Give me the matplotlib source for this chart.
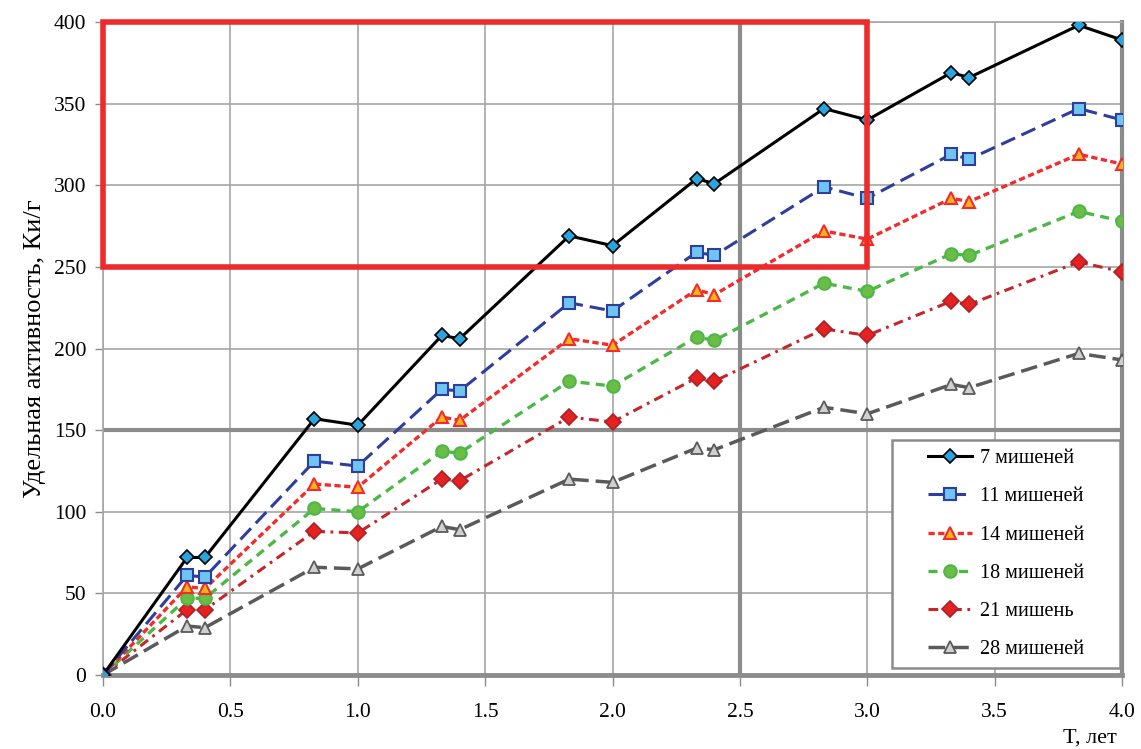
import matplotlib.pyplot as plt
from matplotlib.patches import Rectangle

plt.rcParams['font.family'] = ['Liberation Serif', 'DejaVu Serif']
plt.rcParams['lines.scale_dashes'] = False

# time points, years
t = [0, 0.33, 0.4, 0.83, 1.0, 1.33, 1.4, 1.83, 2.0, 2.33, 2.4, 2.83, 3.0, 3.33, 3.4, 3.83, 4.0]

# specific activity, Ci/g
a7 = [0, 72, 72, 157, 153, 208, 206, 269, 263, 304, 301, 347, 340, 369, 366, 398, 389]
a11 = [0, 61, 60, 131, 128, 175, 174, 228, 223, 259, 257, 299, 292, 319, 316, 347, 340]
a14 = [0, 54, 53, 117, 115, 158, 156, 206, 202, 236, 233, 272, 267, 292, 290, 319, 313]
a18 = [0, 47, 47, 102, 100, 137, 136, 180, 177, 207, 205, 240, 235, 258, 257, 284, 278]
a21 = [0, 40, 40, 88, 87, 120, 119, 158, 155, 182, 180, 212, 208, 229, 227, 253, 247]
a28 = [0, 30, 29, 66, 65, 91, 89, 120, 118, 139, 138, 164, 160, 178, 176, 197, 193]

labels = ['7 мишеней', '11 мишеней', '14 мишеней', '18 мишеней', '21 мишень', '28 мишеней']

fig = plt.figure(figsize=(11.41, 7.49), dpi=100)
ax = fig.add_axes([0.0903, 0.0988, 0.8931, 0.8718])

#series
ax.plot(t, a7, color='black', lw=2.2, marker='D', ms=7, mfc='#2AA4DC', mec='black', mew=1.2,
        label=labels[0], zorder=10)
ax.plot(t, a11, color='#2E3E9C', lw=2.2, dashes=(11, 5), marker='s', ms=9, mfc='#6EC6F0',
        mec='#2E3E9C', mew=1.5, label=labels[1], zorder=9)
ax.plot(t, a14, color='#F22B2B', lw=2.4, dashes=(4.5, 2.5), marker='^', ms=9, mfc='#F7B21C',
        mec='#F22B2B', mew=1.5, label=labels[2], zorder=8)
ax.plot(t, a18, color='#4DB848', lw=2.4, dashes=(6.5, 4.5), marker='o', ms=9, mfc='#6CBD45',
        mec='#4DB848', mew=1.5, label=labels[3], zorder=7)
ax.plot(t, a21, color='#C4262A', lw=2.2, dashes=(7, 4, 2, 4), marker='D', ms=8, mfc='#E42222',
        mec='#B02024', mew=1.2, label=labels[4], zorder=6)
ax.plot(t, a28, color='#5A5A5A', lw=2.5, dashes=(12, 5), marker='^', ms=9, mfc='#D0D0D0',
        mec='#5A5A5A', mew=1.3, label=labels[5], zorder=5)

#axes
ax.set_xlim(0, 4)
ax.set_ylim(0, 400)
ax.set_xticks([0, 0.5, 1.0, 1.5, 2.0, 2.5, 3.0, 3.5, 4.0])
ax.set_xticklabels(['0.0', '0.5', '1.0', '1.5', '2.0', '2.5', '3.0', '3.5', '4.0'])
ax.set_yticks(range(0, 401, 50))
ax.tick_params(axis='both', labelsize=15.5, color='#8C8C8C', direction='out')
ax.tick_params(axis='x', length=8, width=1, pad=12)
ax.tick_params(axis='y', length=6, width=1, pad=6)
ax.grid(True, color='#A6A6A6', lw=1.2)
ax.set_axisbelow(True)

# heavier reference lines
ax.axvline(2.5, color='#8C8C8C', lw=3, zorder=1)
ax.axhline(150, color='#8C8C8C', lw=3, zorder=1)

for s in ['left', 'top']:
    ax.spines[s].set_color('#A6A6A6')
    ax.spines[s].set_linewidth(1.2)
ax.spines['bottom'].set_color('#8C8C8C')
ax.spines['bottom'].set_linewidth(3.5)
ax.spines['right'].set_color('#8C8C8C')
ax.spines['right'].set_linewidth(3)

#highlight box
ax.add_patch(Rectangle((0, 250), 3, 150, fill=False, edgecolor='#EE2A2A', lw=4,
                       zorder=12, clip_on=False))

ax.set_ylabel('Удельная активность, Ки/г', fontsize=19, labelpad=6)
fig.text(0.955, 0.015, 'T, лет', fontsize=16, ha='center', va='center')

#legend box drawn separately, legend itself frameless inside it
ax.add_patch(Rectangle((0.774, 0.011), 0.224, 0.349, transform=ax.transAxes,
                       facecolor='white', edgecolor='#8C8C8C', lw=1.8, zorder=19))
leg = ax.legend(loc='center', bbox_to_anchor=(0.886, 0.185), fontsize=14.5,
                frameon=False, labelspacing=0.95, handlelength=2.2, handletextpad=0.4,
                borderpad=0, borderaxespad=0)
leg.set_zorder(20)

fig.savefig('out.png', dpi=100)
